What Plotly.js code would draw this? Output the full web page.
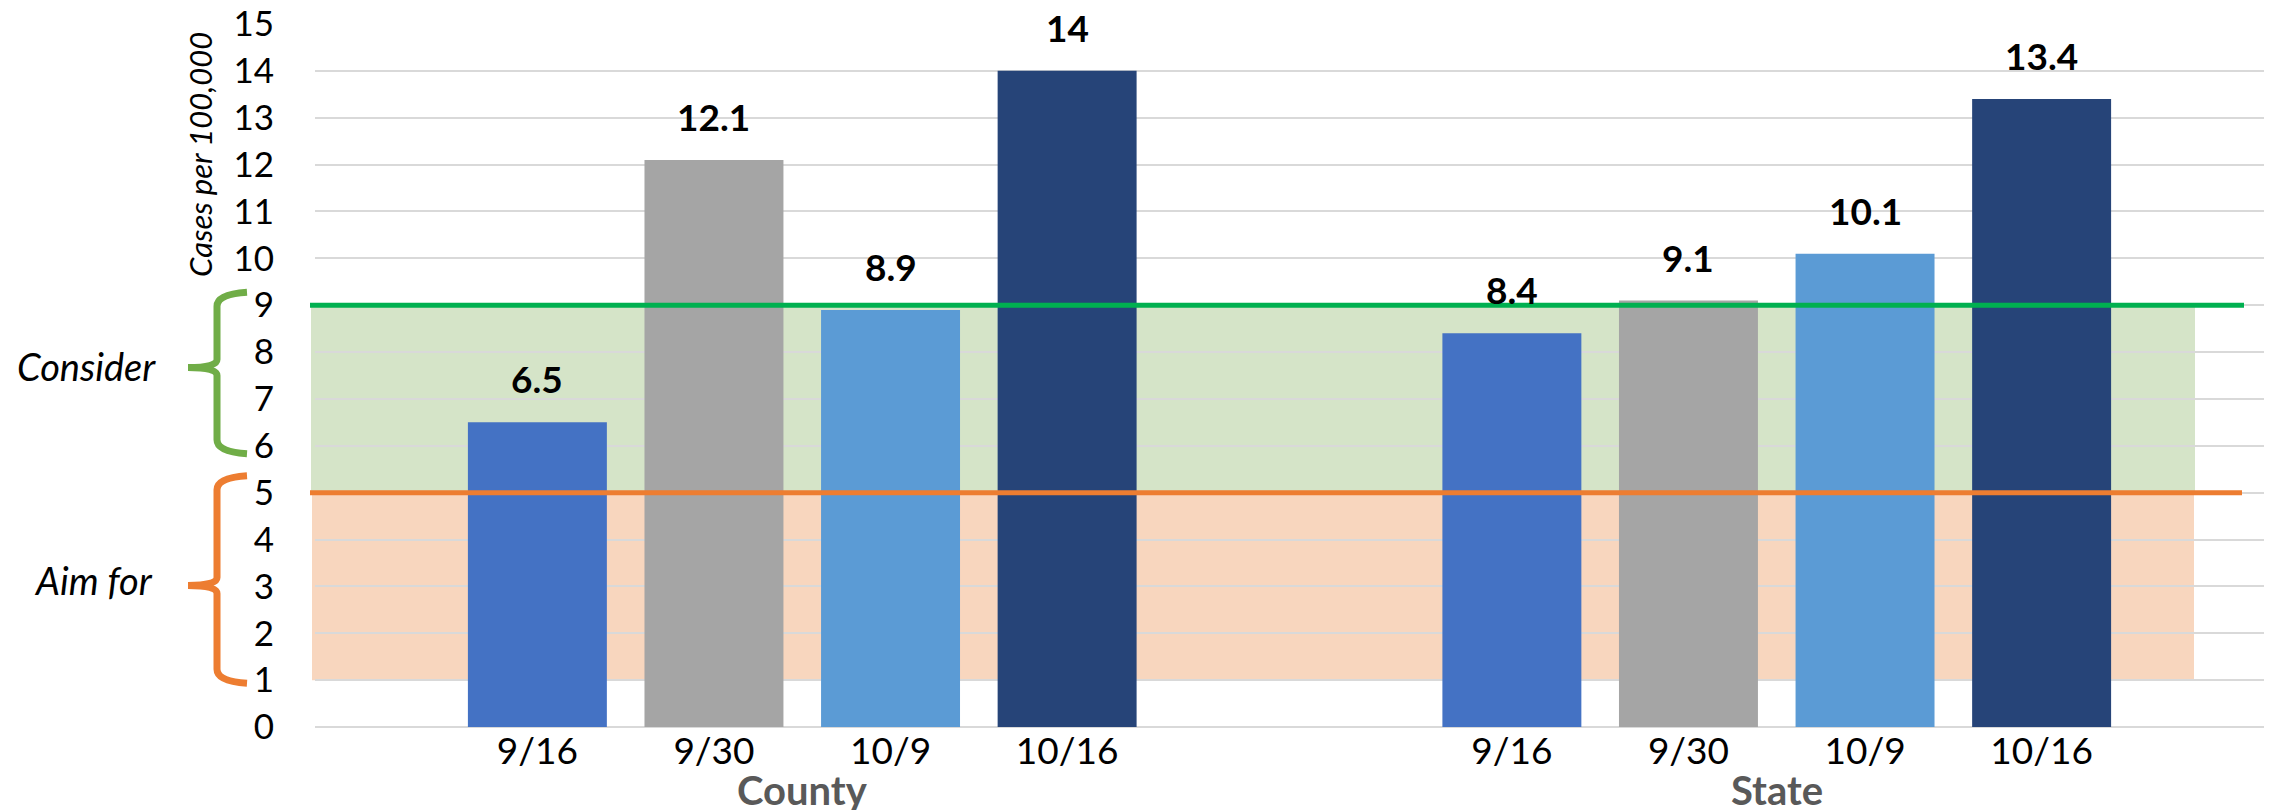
<!DOCTYPE html>
<html>
<head>
<meta charset="utf-8">
<script src="https://cdn.plot.ly/plotly-3.0.1.min.js"></script>
<style>html,body{margin:0;padding:0;background:#fff;}#chart{width:2272px;height:810px;}</style>
</head>
<body>
<div id="chart"></div>
<script>
// ---- data ----
const groups = ['County', 'State'];
const dates = ['9/16', '9/30', '10/9', '10/16'];
const countyValues = [6.5, 12.1, 8.9, 14];
const stateValues = [8.4, 9.1, 10.1, 13.4];
const aimForBand = [1, 5];
const considerBand = [5, 9];
const bandLabels = ['Consider', 'Aim for'];
const yTitle = 'Cases per 100,000';

// ---- styling / layout constants ----
const W = 2272, H = 810, L = 315, R = 8, T = 24, B = 83;
const PW = W - L - R, PH = H - T - B;
const seriesColors = ['#4472C4', '#A5A5A5', '#5B9BD5', '#264478'];
const FONT = 'Lato, "Open Sans", sans-serif';
const slot = 0.1812;     // spacing between bars within a group (x units)
const barWidth = 0.1426; // bar width (x units)

const xp = px => (px - L) / PW;
const yp = py => (H - B - py) / PH;

const valuesByGroup = [countyValues, stateValues];
const traces = [];
const tickvals = [], ticktext = [];
const annotations = [];

dates.forEach((d, s) => {
  const xs = groups.map((g, gi) => gi + (s - 1.5) * slot);
  const ys = groups.map((g, gi) => valuesByGroup[gi][s]);
  traces.push({
    type: 'bar', x: xs, y: ys, width: groups.map(() => barWidth),
    marker: {color: seriesColors[s], line: {width: 0}},
    name: d, hoverinfo: 'skip', showlegend: false
  });
  xs.forEach((x, gi) => {
    tickvals.push(x); ticktext.push(d);
    annotations.push({
      x: x, y: ys[gi], xref: 'x', yref: 'y', text: String(ys[gi]),
      showarrow: false, yanchor: 'bottom', yshift: 19,
      font: {family: FONT, size: 37, color: '#000', weight: 'bold'}
    });
  });
});

groups.forEach((g, gi) => {
  annotations.push({
    x: gi, y: yp(790), xref: 'x', yref: 'paper', text: '<b>' + g + '</b>',
    showarrow: false, yanchor: 'middle',
    font: {family: FONT, size: 40, color: '#595959'}
  });
});

annotations.push({
  x: xp(200), y: yp(155), xref: 'paper', yref: 'paper', text: '<i>' + yTitle + '</i>',
  textangle: -90, showarrow: false, xanchor: 'center', yanchor: 'middle',
  font: {family: FONT, size: 31, color: '#000'}
});
annotations.push({
  x: xp(86), y: yp(366), xref: 'paper', yref: 'paper', text: '<i>' + bandLabels[0] + '</i>',
  showarrow: false, xanchor: 'center', yanchor: 'middle',
  font: {family: FONT, size: 38, color: '#000'}
});
annotations.push({
  x: xp(93), y: yp(580), xref: 'paper', yref: 'paper', text: '<i>' + bandLabels[1] + '</i>',
  showarrow: false, xanchor: 'center', yanchor: 'middle',
  font: {family: FONT, size: 38, color: '#000'}
});

function bracePath(top, bottom, mid) {
  const xa = 247, xv = 217, xt = 188, r = 12;
  const P = (x, y) => xp(x).toFixed(5) + ',' + yp(y).toFixed(5);
  return 'M' + P(xa, top - 2) + ' Q' + P(xv, top) + ' ' + P(xv, top + r) +
    ' L' + P(xv, mid - 8) + ' Q' + P(xv, mid) + ' ' + P(xt, mid) +
    ' Q' + P(xv, mid) + ' ' + P(xv, mid + 8) +
    ' L' + P(xv, bottom - r) + ' Q' + P(xv, bottom) + ' ' + P(xa, bottom + 2);
}

const yPix = v => (H - B) - v / 15 * PH;

const shapes = [
  {type: 'rect', xref: 'paper', yref: 'y', x0: xp(311), x1: xp(2195), y0: considerBand[0], y1: considerBand[1],
   fillcolor: '#D5E4C8', line: {width: 0}, layer: 'below'},
  {type: 'rect', xref: 'paper', yref: 'y', x0: xp(312), x1: xp(2194), y0: aimForBand[0], y1: aimForBand[1],
   fillcolor: '#F8D6BE', line: {width: 0}, layer: 'below'},
  {type: 'line', xref: 'paper', yref: 'y', x0: xp(310), x1: xp(2244), y0: considerBand[1], y1: considerBand[1],
   line: {color: '#00B050', width: 5}, layer: 'above'},
  {type: 'line', xref: 'paper', yref: 'y', x0: xp(310), x1: xp(2242), y0: aimForBand[1], y1: aimForBand[1],
   line: {color: '#ED7D31', width: 5}, layer: 'above'},
  {type: 'path', xref: 'paper', yref: 'paper',
   path: bracePath(yPix(considerBand[1]) - 11, yPix(considerBand[0] + 1) + 6, yPix((considerBand[0] + 1 + considerBand[1]) / 2) - 8),
   line: {color: '#70AD47', width: 7}, fillcolor: 'rgba(0,0,0,0)'},
  {type: 'path', xref: 'paper', yref: 'paper',
   path: bracePath(yPix(aimForBand[1]) - 15, yPix(aimForBand[0]) + 1, yPix((aimForBand[0] + aimForBand[1]) / 2) - 1),
   line: {color: '#ED7D31', width: 7}, fillcolor: 'rgba(0,0,0,0)'}
];

const layout = {
  width: W, height: H,
  margin: {l: L, r: R, t: T, b: B, pad: 0},
  paper_bgcolor: '#fff', plot_bgcolor: 'rgba(0,0,0,0)',
  showlegend: false,
  barmode: 'overlay',
  xaxis: {
    range: [-0.5, 1.5], showgrid: false, zeroline: false, showline: false,
    tickmode: 'array', tickvals: tickvals, ticktext: ticktext,
    ticks: '', ticklabelstandoff: -1,
    tickfont: {family: FONT, size: 37, color: '#000'}, fixedrange: true
  },
  yaxis: {
    range: [0, 15], dtick: 1, tick0: 0,
    showgrid: true, gridcolor: '#D9D9D9', gridwidth: 2,
    zeroline: true, zerolinecolor: '#D9D9D9', zerolinewidth: 2,
    showline: false, ticks: '', ticklabelstandoff: 40,
    tickfont: {family: FONT, size: 35, color: '#000'}, fixedrange: true
  },
  shapes: shapes,
  annotations: annotations
};

Plotly.newPlot('chart', traces, layout, {displayModeBar: false, staticPlot: true});
</script>
</body>
</html>
